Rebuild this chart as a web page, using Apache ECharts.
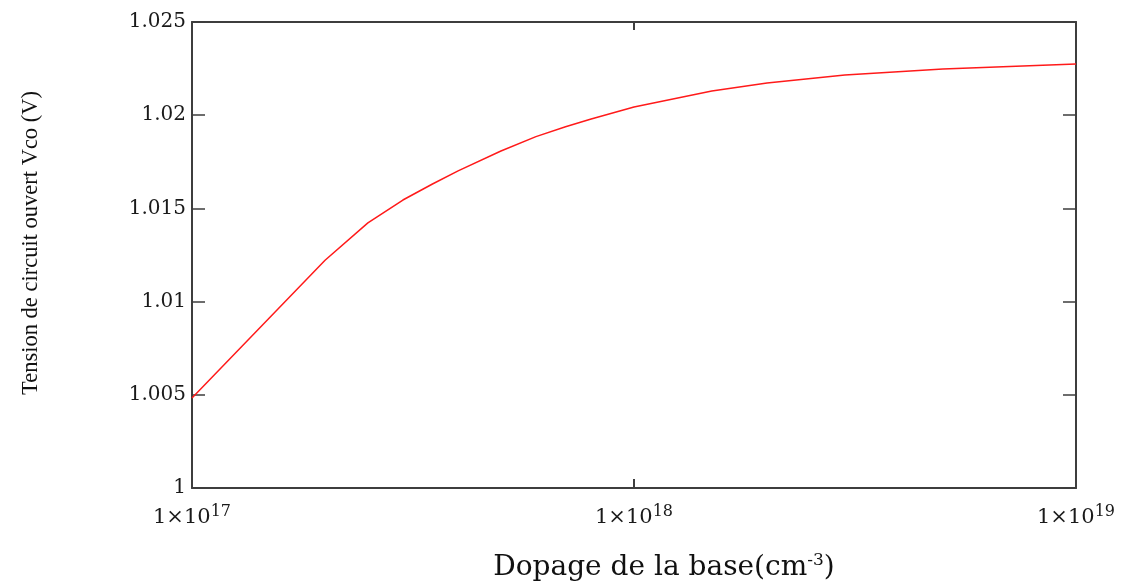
<!DOCTYPE html>
<html>
<head>
<meta charset="utf-8">
<script src="https://cdn.jsdelivr.net/npm/echarts@6/dist/echarts.min.js"></script>
<style>
  html, body { margin: 0; padding: 0; background: #fff; overflow: hidden; }
  #chart { width: 1128px; height: 581px; }
</style>
</head>
<body>
<div id="chart"></div>
<script>
// dopage de la base (cm^-3) et tension Vco (V)
const dopage = [1e17, 2e17, 2.5e17, 3e17, 3.5e17, 4e17, 5e17, 6e17, 7e17, 8e17, 1e18, 1.5e18, 2e18, 3e18, 5e18, 1e19];
const vco = [1.00483, 1.01222, 1.01422, 1.01545, 1.01631, 1.01701, 1.01808, 1.01885, 1.01938, 1.01980, 1.02044, 1.02130, 1.02173, 1.02216, 1.02248, 1.02275];
const yTicks = [1, 1.005, 1.01, 1.015, 1.02, 1.025];

const chart = echarts.init(document.getElementById('chart'));
const boxColor = '#3e3e3e';
const serif = '"Liberation Serif", "DejaVu Serif", serif';
const wide = '"DejaVu Serif", serif';

function expLabel(v) {
  const e = Math.round(Math.log10(v));
  return '1×10{sup|' + e + '}';
}

const option = {
  animation: false,
  backgroundColor: '#fff',
  grid: { left: 192, top: 22, right: 52, bottom: 93, outerBoundsMode: 'none' },
  graphic: [{
    type: 'text',
    x: 31, y: 243,
    rotation: Math.PI / 2,
    style: {
      text: 'Tension de circuit ouvert Vco (V)',
      font: '22.5px ' + serif,
      fill: '#111',
      align: 'center',
      verticalAlign: 'middle'
    }
  }],
  xAxis: [{
    type: 'log',
    logBase: 10,
    min: dopage[0],
    max: dopage[dopage.length - 1],
    name: 'Dopage de la base(cm{sup|-3})',
    nameLocation: 'middle',
    nameGap: 64,
    nameTextStyle: {
      fontFamily: wide, fontSize: 28, color: '#111',
      padding: [0, 0, 0, 60],
      rich: { sup: { fontFamily: wide, fontSize: 17, color: '#111', verticalAlign: 'top', padding: [0, 0, 14, 0] } }
    },
    axisLine: { show: true, lineStyle: { color: boxColor, width: 2 } },
    axisTick: { show: true, inside: true, length: 9, lineStyle: { color: boxColor, width: 2 } },
    splitLine: { show: false },
    minorTick: { show: false },
    axisLabel: {
      margin: 16,
      fontFamily: wide, fontSize: 21, color: '#1a1a1a',
      formatter: expLabel,
      rich: { sup: { fontFamily: wide, fontSize: 16, color: '#1a1a1a', verticalAlign: 'top', padding: [0, 0, 12, 0] } }
    }
  }, {
    type: 'log',
    logBase: 10,
    position: 'top',
    min: dopage[0],
    max: dopage[dopage.length - 1],
    axisLine: { show: true, lineStyle: { color: boxColor, width: 2 } },
    axisTick: { show: true, inside: true, length: 8, lineStyle: { color: boxColor, width: 2 } },
    axisLabel: { show: false },
    splitLine: { show: false }
  }],
  yAxis: [{
    type: 'value',
    min: yTicks[0],
    max: yTicks[yTicks.length - 1],
    interval: 0.005,
    axisLine: { show: true, lineStyle: { color: boxColor, width: 2 } },
    axisTick: { show: true, inside: true, length: 13, lineStyle: { color: boxColor, width: 1.5 } },
    splitLine: { show: false },
    axisLabel: {
      margin: 6,
      fontFamily: wide, fontSize: 20, color: '#1a1a1a',
      formatter: function (v) { return String(parseFloat(v.toFixed(3))); }
    }
  }, {
    type: 'value',
    position: 'right',
    min: yTicks[0],
    max: yTicks[yTicks.length - 1],
    interval: 0.005,
    axisLine: { show: true, lineStyle: { color: boxColor, width: 2 } },
    axisTick: { show: true, inside: true, length: 13, lineStyle: { color: boxColor, width: 1.5 } },
    axisLabel: { show: false },
    splitLine: { show: false }
  }],
  series: [{
    type: 'line',
    data: dopage.map((n, i) => [n, vco[i]]),
    showSymbol: false,
    smooth: false,
    lineStyle: { color: '#ff1a1a', width: 1.5 },
    z: 1
  }]
};

chart.setOption(option);
</script>
</body>
</html>
